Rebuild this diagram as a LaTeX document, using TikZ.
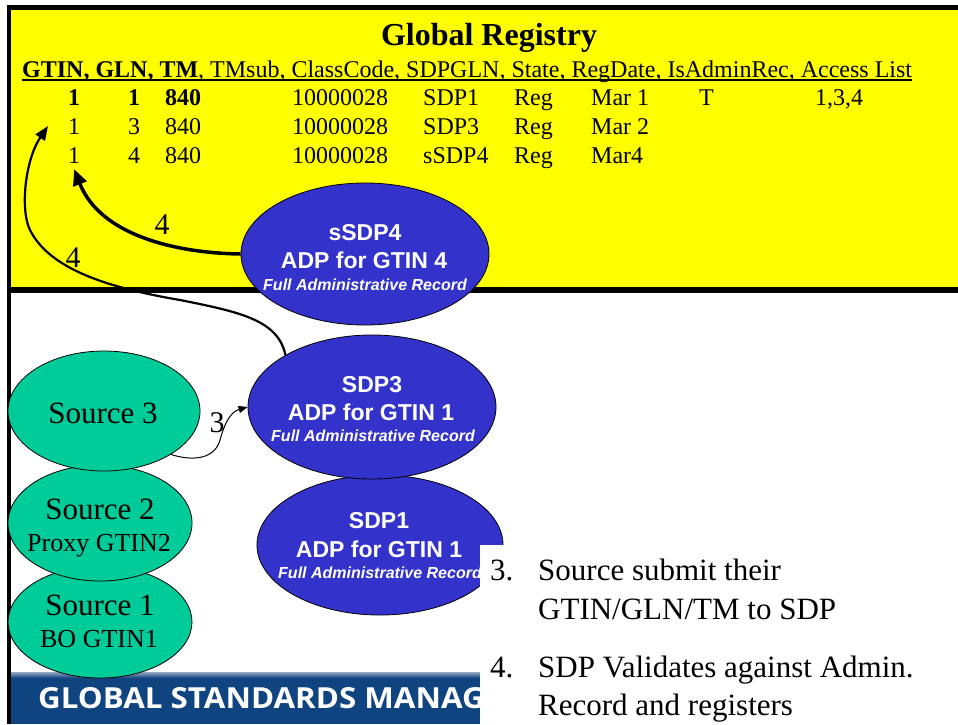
\documentclass[tikz,border=0pt]{standalone}
\usepackage{fontspec}
\setmainfont{Liberation Serif}
\setsansfont{Liberation Sans}
\newfontfamily\bannerfont[FakeStretch=1.08]{Open Sans}
\usetikzlibrary{shapes.geometric,arrows.meta}
\definecolor{regyellow}{RGB}{255,255,0}
\definecolor{sdpblue}{RGB}{51,51,204}
\definecolor{srcgreen}{RGB}{0,204,153}
\definecolor{banblue}{RGB}{16,68,128}
\definecolor{banlight}{RGB}{150,170,195}
\begin{document}
\begin{tikzpicture}[x=1pt,y=-1pt,
  sdp/.style={ellipse,draw=black,line width=0.8pt,fill=sdpblue,inner sep=0pt},
  src/.style={ellipse,draw=black,line width=0.8pt,fill=srcgreen,inner sep=0pt},
  sdpbig/.style={anchor=base,inner sep=0pt,text=white,font=\sffamily\bfseries\fontsize{23}{23}\selectfont},
  sdpsmall/.style={anchor=base,inner sep=0pt,text=white,font=\sffamily\bfseries\itshape\fontsize{16}{16}\selectfont},
  srcbig/.style={anchor=base,inner sep=0pt,font=\fontsize{31}{31}\selectfont},
  srcsmall/.style={anchor=base,inner sep=0pt,font=\fontsize{26}{26}\selectfont},
  cell/.style={anchor=base west,inner sep=0pt,font=\fontsize{24}{24}\selectfont},
  bcell/.style={cell,font=\bfseries\fontsize{24}{24}\selectfont},
  lab/.style={inner sep=0pt,font=\fontsize{30}{30}\selectfont},
  listtxt/.style={anchor=base west,inner sep=0pt,font=\fontsize{31}{31}\selectfont}
]
\useasboundingbox (0,0) rectangle (958,724);
\fill[white] (0,0) rectangle (958,724);
% registry panel
\fill[regyellow] (9,8) rectangle (958,290);
\draw[line width=5pt] (958,7.5) -- (9,7.5);
\draw[line width=4pt] (9,5) -- (9,724);
\draw[line width=6pt] (7,290) -- (958,290);

\node[anchor=base,inner sep=0pt,font=\bfseries\fontsize{32}{32}\selectfont] (title) at (489,45) {Global Registry};
\node[cell] (hdr) at (22,77) {\textbf{GTIN, GLN, TM}, TMsub, ClassCode, SDPGLN, State, RegDate, IsAdminRec, Access List};
\draw[line width=1.5pt] ([yshift=-3pt]hdr.base west) -- ([yshift=-3pt]hdr.base east);

% rows
\node[bcell] (r1a) at (68,105) {1};
\node[bcell] (r1b) at (128,105) {1};
\node[bcell] (r1c) at (165,105) {840};
\node[cell] (r1d) at (292,105) {10000028};
\node[cell] (r1e) at (423,105) {SDP1};
\node[cell] (r1f) at (514,105) {Reg};
\node[cell] (r1g) at (591,105) {Mar 1};
\node[cell] (r1h) at (699,105) {T};
\node[cell] (r1i) at (815,105) {1,3,4};

\node[cell] (r2a) at (68,134) {1};
\node[cell] (r2b) at (128,134) {3};
\node[cell] (r2c) at (165,134) {840};
\node[cell] (r2d) at (292,134) {10000028};
\node[cell] (r2e) at (423,134) {SDP3};
\node[cell] (r2f) at (514,134) {Reg};
\node[cell] (r2g) at (591,134) {Mar 2};

\node[cell] (r3a) at (68,163) {1};
\node[cell] (r3b) at (128,163) {4};
\node[cell] (r3c) at (165,163) {840};
\node[cell] (r3d) at (292,163) {10000028};
\node[cell] (r3e) at (423,163) {sSDP4};
\node[cell] (r3f) at (514,163) {Reg};
\node[cell] (r3g) at (591,163) {Mar4};

% banner
\begin{scope}
  \clip (11,672) rectangle (480,724);
  \shade[top color=banlight,bottom color=banblue] (11,672) rectangle (480,678);
  \fill[banblue] (11,678) rectangle (480,724);
  \node[anchor=base west,inner sep=0pt,text=white,font=\bannerfont\bfseries\fontsize{29}{29}\selectfont] (banner) at (38,708) {GLOBAL STANDARDS MANAG};
\end{scope}

% sources
\node[src,minimum width=184pt,minimum height=112pt] (s1) at (100,622) {};
\node[src,minimum width=184pt,minimum height=116pt] (s2) at (100,523) {};
\node[src,minimum width=192pt,minimum height=120pt] (s3) at (104,411) {};
\node[srcbig] (s3a) at (103,423) {Source 3};
\node[srcbig] (s2a) at (100,519) {Source 2};
\node[srcsmall] (s2b) at (99,551) {Proxy GTIN2};
\node[srcbig] (s1a) at (100,615) {Source 1};
\node[srcsmall] (s1b) at (99,647) {BO GTIN1};

% SDPs
\node[sdp,minimum width=246pt,minimum height=140pt] (sdp1) at (380,545) {};
\node[sdpbig] (sdp1a) at (379,528) {SDP1};
\node[sdpbig] (sdp1b) at (379,557) {ADP for GTIN 1};
\node[sdpsmall] (sdp1c) at (380,578) {Full Administrative Record};

\node[sdp,minimum width=248pt,minimum height=144pt] (sdp3) at (372,407) {};
\node[sdpbig] (sdp3a) at (372,392) {SDP3};
\node[sdpbig] (sdp3b) at (371,420) {ADP for GTIN 1};
\node[sdpsmall] (sdp3c) at (373,441) {Full Administrative Record};

\node[sdp,minimum width=248pt,minimum height=142pt] (s4) at (365,254) {};
\node[sdpbig] (s4a) at (365,240) {sSDP4};
\node[sdpbig] (s4b) at (364,268) {ADP for GTIN 4};
\node[sdpsmall] (s4c) at (365,290) {Full Administrative Record};

% list box
\fill[white] (480,545) rectangle (958,724);
\node[listtxt] (l3n) at (490,580) {3.};
\node[listtxt] (l3a) at (538,580) {Source submit their};
\node[listtxt] (l3b) at (538,619) {GTIN/GLN/TM to SDP};
\node[listtxt] (l4n) at (490,677) {4.};
\node[listtxt] (l4a) at (538,677) {SDP Validates against Admin.};
\node[listtxt] (l4b) at (538,715) {Record and registers};

% connectors
\draw[line width=1pt,-{Triangle[length=9pt,width=7pt]}]
  (s3.-33) .. controls (195,462) and (215,458) .. (220,440)
  .. controls (224,425) and (230,412) .. (sdp3.west);
\node[lab] (lab3) at (217,423) {3};

\draw[line width=3.5pt,-{Triangle[length=16pt,width=14pt]}]
  (s4.west) .. controls (175,253) and (100,235) .. ([yshift=-6pt]r3a.south);
\node[lab] (lab4a) at (162,225) {4};

\draw[line width=2.2pt,-{Triangle[length=14pt,width=11pt]}]
  (sdp3.149) .. controls (278,320) and (240,312) .. (180,300)
  .. controls (110,288) and (50,270) .. (30,230)
  .. controls (20,210) and (25,160) .. ([xshift=-20pt]r2a.west);
\node[lab] (lab4b) at (73,258) {4};
\end{tikzpicture}
\end{document}
